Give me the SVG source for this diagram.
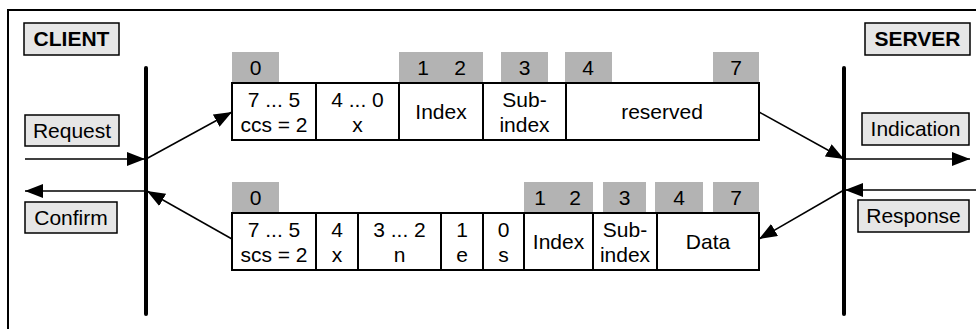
<svg xmlns="http://www.w3.org/2000/svg" width="976" height="329" viewBox="0 0 976 329">
<defs>
<marker id="ah" markerUnits="userSpaceOnUse" markerWidth="18" markerHeight="14" refX="18" refY="7" orient="auto"><path d="M0,0 L18,7 L0,14 z" fill="#000"/></marker>
<style>
text{font-family:"Liberation Sans",Arial,sans-serif;font-size:21px;fill:#000;text-anchor:middle}
.b{font-weight:bold}
.lbl{fill:#e6e6e6;stroke:#000;stroke-width:1.5}
.cell{fill:#fff;stroke:#000;stroke-width:2}
.hdr{fill:#b3b3b3;stroke:none}
.bar{stroke:#000;stroke-width:4;stroke-linecap:round}
.frame{stroke:#000;stroke-width:2;fill:none}
.arr{stroke:#000;stroke-width:1.5;fill:none;marker-end:url(#ah)}
</style>
</defs>
<rect width="976" height="329" fill="#fff"/>
<path class="frame" d="M8,329 V10 H976"/>

<g id="client"><rect class="lbl" x="24" y="23" width="95" height="32"/><text class="b" x="71.5" y="46">CLIENT</text></g>
<g id="server"><rect class="lbl" x="865" y="23" width="105" height="32"/><text class="b" x="917.5" y="46">SERVER</text></g>
<g id="client-line"><line class="bar" x1="146" y1="68" x2="146" y2="314"/></g>
<g id="server-line"><line class="bar" x1="844" y1="68" x2="844" y2="314"/></g>
<g id="request"><rect class="lbl" x="25" y="115" width="94" height="31"/><text x="72" y="138">Request</text></g>
<g id="confirm"><rect class="lbl" x="25" y="202" width="92" height="31"/><text x="71" y="225">Confirm</text></g>
<g id="indication"><rect class="lbl" x="862" y="113" width="107" height="32"/><text x="915.5" y="136">Indication</text></g>
<g id="response"><rect class="lbl" x="858" y="200" width="111" height="32"/><text x="913.5" y="223">Response</text></g>

<g id="req-frame">
<rect class="hdr" x="232" y="52" width="47" height="30"/>
<rect class="hdr" x="399" y="52" width="84" height="30"/>
<rect class="hdr" x="501" y="52" width="47" height="30"/>
<rect class="hdr" x="565" y="52" width="47" height="30"/>
<rect class="hdr" x="713" y="52" width="46" height="30"/>
<text x="255.5" y="75">0</text><text x="423" y="75">1</text><text x="460" y="75">2</text><text x="524.5" y="75">3</text><text x="588" y="75">4</text><text x="736" y="75">7</text>
<rect class="cell" x="232" y="83" width="84" height="57"/>
<rect class="cell" x="316" y="83" width="83" height="57"/>
<rect class="cell" x="399" y="83" width="84" height="57"/>
<rect class="cell" x="483" y="83" width="83" height="57"/>
<rect class="cell" x="566" y="83" width="193" height="57"/>
<text x="274" y="107">7 ... 5</text><text x="274" y="132">ccs = 2</text>
<text x="357.5" y="107">4 ... 0</text><text x="357.5" y="132">x</text>
<text x="441" y="119">Index</text>
<text x="524.5" y="107">Sub-</text><text x="524.5" y="132">index</text>
<text x="662" y="119">reserved</text>
</g>

<g id="resp-frame">
<rect class="hdr" x="232" y="182" width="47" height="30"/>
<rect class="hdr" x="524" y="182" width="69" height="30"/>
<rect class="hdr" x="603" y="182" width="43" height="30"/>
<rect class="hdr" x="655" y="182" width="48" height="30"/>
<rect class="hdr" x="713" y="182" width="46" height="30"/>
<text x="255.5" y="205">0</text><text x="540" y="205">1</text><text x="575" y="205">2</text><text x="624.5" y="205">3</text><text x="679" y="205">4</text><text x="736" y="205">7</text>
<rect class="cell" x="232" y="213" width="84" height="57"/>
<rect class="cell" x="316" y="213" width="42" height="57"/>
<rect class="cell" x="358" y="213" width="83" height="57"/>
<rect class="cell" x="441" y="213" width="42" height="57"/>
<rect class="cell" x="483" y="213" width="41" height="57"/>
<rect class="cell" x="524" y="213" width="69" height="57"/>
<rect class="cell" x="593" y="213" width="64" height="57"/>
<rect class="cell" x="657" y="213" width="102" height="57"/>
<text x="274" y="237">7 ... 5</text><text x="274" y="262">scs = 2</text>
<text x="337" y="237">4</text><text x="337" y="262">x</text>
<text x="399.5" y="237">3 ... 2</text><text x="399.5" y="262">n</text>
<text x="462" y="237">1</text><text x="462" y="262">e</text>
<text x="503.5" y="237">0</text><text x="503.5" y="262">s</text>
<text x="558.5" y="249">Index</text>
<text x="625" y="237">Sub-</text><text x="625" y="262">index</text>
<text x="708" y="249">Data</text>
</g>

<g id="connectors">
<line class="arr" x1="25" y1="159" x2="145" y2="159"/>
<line class="arr" x1="146" y1="159" x2="232" y2="112"/>
<line class="arr" x1="759" y1="112" x2="844" y2="159"/>
<line class="arr" x1="844" y1="159" x2="970" y2="159"/>
<line class="arr" x1="976" y1="190" x2="845" y2="190"/>
<line class="arr" x1="844" y1="190" x2="759" y2="239"/>
<line class="arr" x1="232" y1="239" x2="147" y2="191"/>
<line class="arr" x1="146" y1="191" x2="25" y2="191"/>
</g>
</svg>
